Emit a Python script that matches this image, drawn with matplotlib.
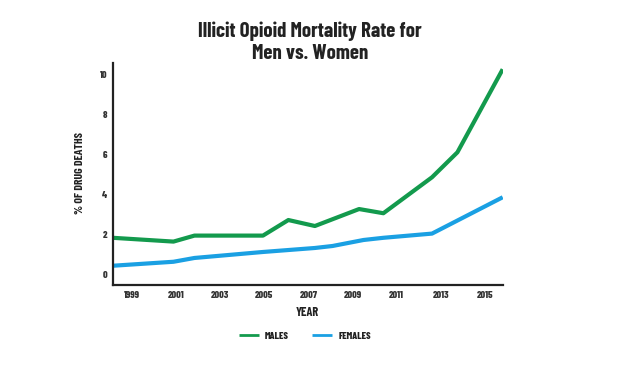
import matplotlib
matplotlib.use("Agg")
import matplotlib.pyplot as plt

# values (year positions are fractional on purpose)
male_years = [1998.15, 2000.9, 2001.85, 2004.95, 2006.1, 2007.3, 2009.3, 2010.4, 2012.6, 2013.75, 2015.8]
male_rate = [1.84, 1.65, 1.95, 1.95, 2.73, 2.43, 3.28, 3.07, 4.87, 6.12, 10.28]
female_years = [1998.15, 2000.9, 2001.85, 2004.95, 2007.3, 2008.1, 2009.5, 2010.4, 2012.6, 2015.8]
female_rate = [0.44, 0.64, 0.83, 1.13, 1.33, 1.43, 1.73, 1.84, 2.05, 3.87]
year_ticks = [1999, 2001, 2003, 2005, 2007, 2009, 2011, 2013, 2015]
rate_ticks = [0, 2, 4, 6, 8, 10]

green = "#139a4d"
blue = "#1aa0e3"
dark = "#222222"

plt.rcParams['font.family'] = ["Barlow Condensed", "Roboto Condensed", "DejaVu Sans"]
plt.rcParams['font.weight'] = 800
plt.rcParams['axes.labelweight'] = 'bold'

fig = plt.figure(figsize=(6.2, 3.72), dpi=100)
ax = fig.add_axes([0.1818, 0.233, 0.629, 0.598])

ax.plot(male_years, male_rate, color=green, lw=3, label="MALES", solid_capstyle='butt')
ax.plot(female_years, female_rate, color=blue, lw=3, label="FEMALES", solid_capstyle='butt')

ax.set_xlim(1998.15, 2015.8)
ax.set_ylim(-0.54, 10.6)
ax.set_xticks(year_ticks)
ax.set_yticks(rate_ticks)
ax.tick_params(length=0, labelsize=7.2, colors="#333333", pad=4)

for s in ["top", "right"]:
    ax.spines[s].set_visible(False)
for s in ["left", "bottom"]:
    ax.spines[s].set_linewidth(1.6)
    ax.spines[s].set_color(dark)

ax.set_xlabel("YEAR", fontsize=9, color=dark, fontweight='bold')
ax.xaxis.set_label_coords(0.5, -0.12)
ax.xaxis.label.set_va('center')
ax.set_ylabel("% OF DRUG DEATHS", fontsize=8.5, color=dark, fontweight='bold')
ax.yaxis.set_label_coords(-0.084, 0.505)
ax.yaxis.label.set_va('center')

fig.text(0.5, 0.886, "Illicit Opioid Mortality Rate for\nMen vs. Women", ha='center', va='center',
         fontsize=15, color=dark, linespacing=1.2, fontweight='bold')

leg = ax.legend(loc="center", bbox_to_anchor=(0.493, -0.228), ncol=2, frameon=False,
                fontsize=7.2, handlelength=2.0, columnspacing=2.3, handletextpad=0.6, labelcolor=dark)
for line in leg.get_lines():
    line.set_linewidth(2)

fig.savefig("out.png", dpi=100)
